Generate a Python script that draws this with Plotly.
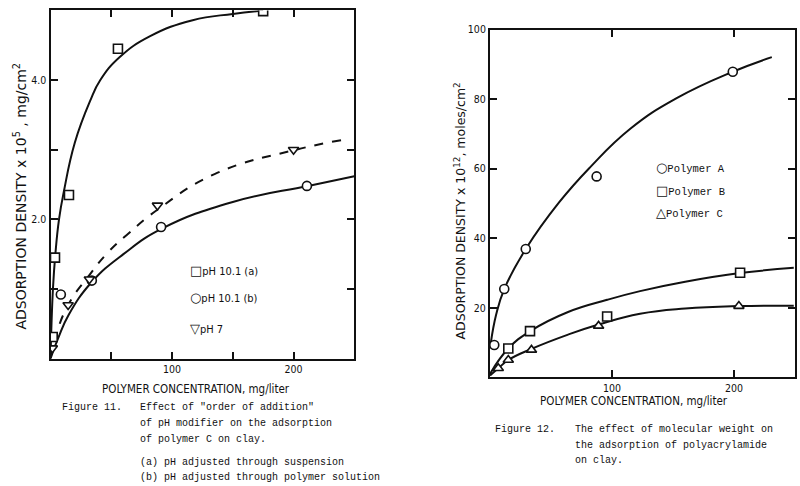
import plotly.graph_objects as go

# ---------------- Figure 11 (left) data ----------------
a_pts_x = [1.8, 3.7, 15.2, 55.5, 175]
a_pts_y = [0.31, 1.45, 2.35, 4.45, 4.99]
b_pts_x = [8.5, 34, 91, 211]
b_pts_y = [0.92, 1.12, 1.89, 2.48]
ph7_pts_x = [1.5, 14.5, 32, 88, 200]
ph7_pts_y = [0.15, 0.77, 1.14, 2.2, 3.0]

a_curve_x = [0, 2, 4, 7, 11, 20, 32.6, 41, 57, 82, 117, 150, 175]
a_curve_y = [0, 1.0, 1.5, 2.0, 2.4, 3.1, 3.7, 4.0, 4.33, 4.63, 4.86, 4.95, 5.0]
b_curve_x = [0, 6.5, 15, 34, 60, 92, 150, 212, 250]
b_curve_y = [0, 0.3, 0.63, 1.1, 1.5, 1.87, 2.25, 2.48, 2.62]
ph7_curve_x = [0, 4, 14.5, 32, 47, 63, 89, 135, 202, 244]
ph7_curve_y = [0, 0.3, 0.77, 1.2, 1.52, 1.78, 2.15, 2.65, 3.0, 3.15]

# ---------------- Figure 12 (right) data ----------------
pA_x = [3.5, 11.7, 29.3, 87.4, 199]
pA_y = [9.3, 25.4, 36.9, 57.8, 87.9]
pB_x = [15, 32.8, 96, 205]
pB_y = [8.3, 13.3, 17.5, 30.1]
pC_x = [6.8, 15, 34, 89, 204]
pC_y = [2.6, 5.0, 7.9, 14.8, 20.5]

A_curve_x = [0.5, 5, 11.7, 29.3, 56.6, 82, 115, 153, 199, 231]
A_curve_y = [9.5, 18, 25.4, 36.9, 50.3, 60.4, 71.5, 80.3, 87.9, 92.1]
B_curve_x = [0, 15, 33, 64, 96, 123, 160, 205, 249]
B_curve_y = [1, 8.3, 13.3, 18.8, 22.3, 24.8, 27.5, 30, 31.5]
C_curve_x = [0, 6.8, 15, 34, 64, 89, 123, 160, 204, 249]
C_curve_y = [0.5, 2.6, 5.0, 8.2, 12.3, 15.2, 18.3, 19.8, 20.5, 20.6]

INK = "#111111"
W, H = 800, 486
SANS = "Liberation Sans Narrow, DejaVu Sans Condensed, Liberation Sans, sans-serif"
WIDE = "DejaVu Sans, Liberation Sans, sans-serif"
MONO = "Liberation Mono, DejaVu Sans Mono, monospace"

fig = go.Figure()

def curve(x, y, xa, ya, dash="solid"):
    fig.add_trace(go.Scatter(x=x, y=y, mode="lines", xaxis=xa, yaxis=ya,
                             line=dict(color=INK, width=2, shape="spline", smoothing=1.3, dash=dash),
                             showlegend=False, hoverinfo="skip"))

def pts(x, y, xa, ya, symbol, name):
    fig.add_trace(go.Scatter(x=x, y=y, mode="markers", xaxis=xa, yaxis=ya, name=name,
                             marker=dict(symbol=symbol, size=9, color="white",
                                         line=dict(color=INK, width=1.6)),
                             showlegend=False))

curve(a_curve_x, a_curve_y, "x", "y")
curve(b_curve_x, b_curve_y, "x", "y")
curve(ph7_curve_x, ph7_curve_y, "x", "y", dash="dash")
pts(a_pts_x, a_pts_y, "x", "y", "square", "pH 10.1 (a)")
pts(b_pts_x, b_pts_y, "x", "y", "circle", "pH 10.1 (b)")
pts(ph7_pts_x, ph7_pts_y, "x", "y", "triangle-down", "pH 7")

curve(A_curve_x, A_curve_y, "x2", "y2")
curve(B_curve_x, B_curve_y, "x2", "y2")
curve(C_curve_x, C_curve_y, "x2", "y2")
pts(pA_x, pA_y, "x2", "y2", "circle", "Polymer A")
pts(pB_x, pB_y, "x2", "y2", "square", "Polymer B")
pts(pC_x, pC_y, "x2", "y2", "triangle-up", "Polymer C")

axis_common = dict(showline=True, linecolor=INK, linewidth=2, mirror="ticks",
                   ticks="inside", ticklen=7, tickwidth=1.6, tickcolor=INK,
                   showgrid=False, zeroline=False, fixedrange=True,
                   tickfont=dict(family=SANS, size=10.5, color=INK))

fig.update_layout(
    width=W, height=H, margin=dict(l=0, r=0, t=0, b=0),
    paper_bgcolor="white", plot_bgcolor="white",
    xaxis=dict(domain=[50.5 / W, 354.3 / W], range=[0, 250], anchor="y",
               tickvals=[50, 100, 150, 200], ticktext=["", "100", "", "200"], **axis_common),
    yaxis=dict(domain=[(H - 357) / H, (H - 4.5) / H], range=[0, 5], anchor="x",
               tickvals=[1, 2, 3, 4], ticktext=["", "2.0", "", "4.0"], **axis_common),
    xaxis2=dict(domain=[490 / W, 795 / W], range=[0, 250], anchor="y2",
                tickvals=[100, 200], ticktext=["100", "200"], **axis_common),
    yaxis2=dict(domain=[(H - 376) / H, (H - 24) / H], range=[0, 100], anchor="x2",
                tickvals=[20, 40, 60, 80, 100], ticktext=["20", "40", "60", "80", "100"], **axis_common),
)

def ann(text, x, y, size=11, family=SANS, angle=0, xanchor="left"):
    fig.add_annotation(text=text, x=x / W, y=(H - y) / H, xref="paper", yref="paper",
                       showarrow=False, textangle=angle, xanchor=xanchor, yanchor="middle",
                       font=dict(family=family, size=size, color=INK))

def sym(ch):
    return '<span style="font-family:DejaVu Sans;font-size:13px">' + ch + '</span>'

# axis titles
ann("ADSORPTION DENSITY x 10<sup>5</sup> , mg/cm<sup>2</sup>", 20, 193, size=14, family=WIDE,
    angle=-90, xanchor="center")
ann("POLYMER CONCENTRATION, mg/liter", 196, 388, size=11.5, xanchor="center")
ann("ADSORPTION DENSITY x 10<sup>12</sup>, moles/cm<sup>2</sup>", 460, 207, size=12.5, family=WIDE,
    angle=-90, xanchor="center")
ann("POLYMER CONCENTRATION, mg/liter", 634, 400, size=11.5, xanchor="center")

# in-plot legends
ann(sym("□") + "pH 10.1 (a)", 188, 268, size=11)
ann(sym("○") + "pH 10.1 (b)", 188, 295, size=11)
ann(sym("▽") + "pH 7", 188, 327, size=11)
ann(sym("○") + "Polymer A", 654, 164, size=10.5, family=MONO)
ann(sym("□") + "Polymer B", 654, 187, size=10.5, family=MONO)
ann(sym("△") + "Polymer C", 654, 209, size=10.5, family=MONO)

# captions
ann("Figure 11.", 60, 407, size=10, family=MONO)
ann("Effect of \"order of addition\"", 138, 407, size=10, family=MONO)
ann("of pH modifier on the adsorption", 138, 423, size=10, family=MONO)
ann("of polymer C on clay.", 138, 439, size=10, family=MONO)
ann("(a) pH adjusted through suspension", 138, 462, size=10, family=MONO)
ann("(b) pH adjusted through polymer solution", 138, 477, size=10, family=MONO)

ann("Figure 12.", 493, 429, size=10, family=MONO)
ann("The effect of molecular weight on", 573, 429, size=10, family=MONO)
ann("the adsorption of polyacrylamide", 573, 445, size=10, family=MONO)
ann("on clay.", 573, 460, size=10, family=MONO)

fig.write_html("out.html")
